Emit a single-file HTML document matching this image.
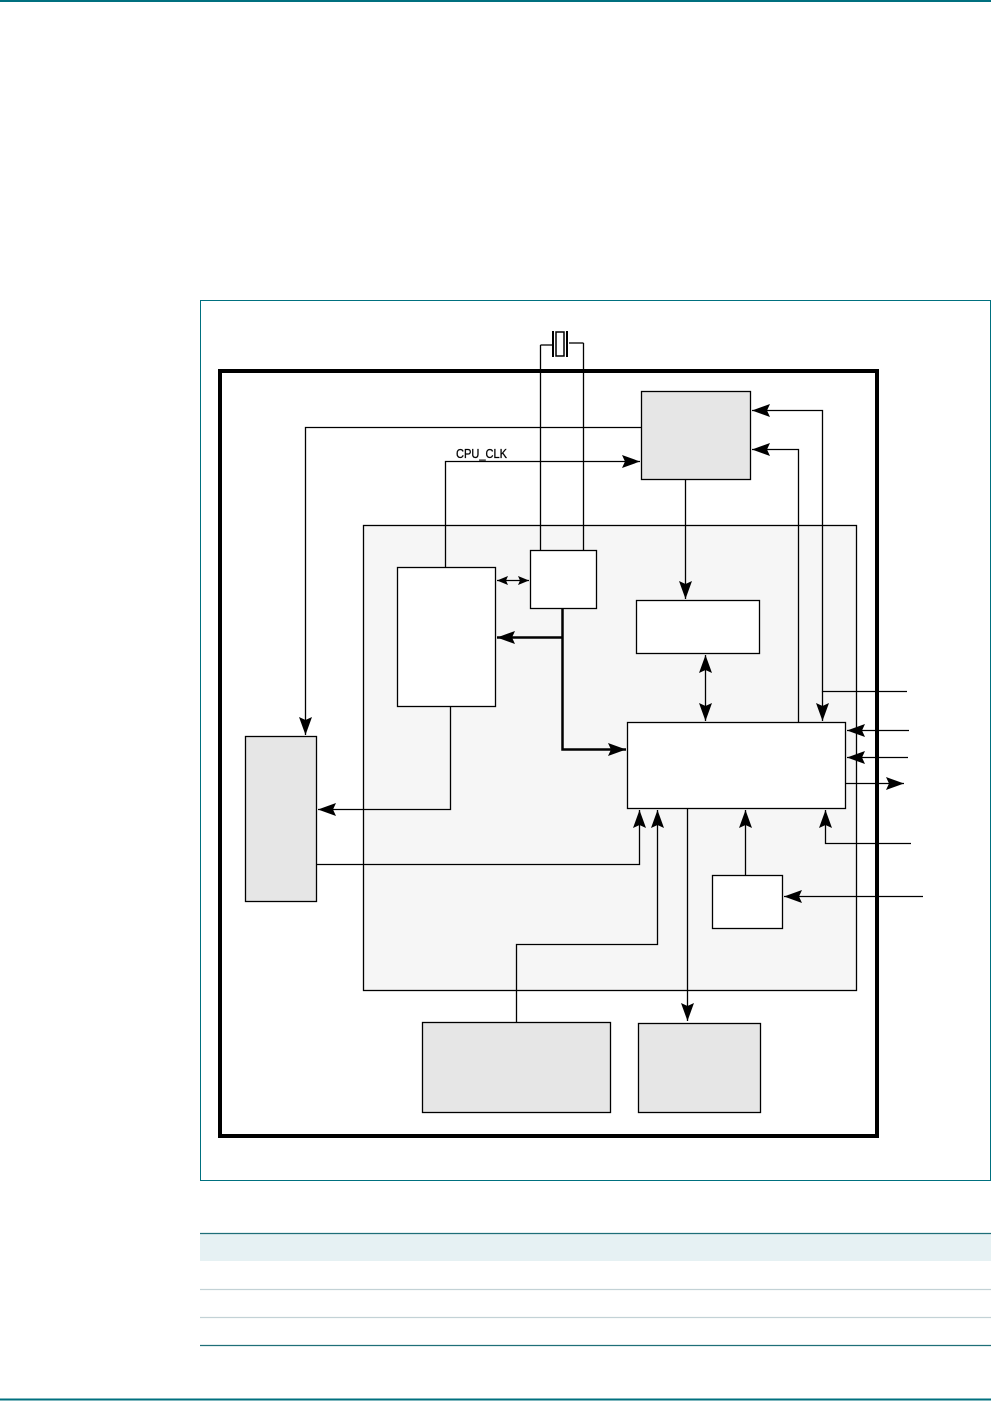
<!DOCTYPE html>
<html><head><meta charset="utf-8"><style>
html,body{margin:0;padding:0;background:#fff;}
svg{display:block;}
</style></head><body>
<svg width="991" height="1401" viewBox="0 0 991 1401" xmlns="http://www.w3.org/2000/svg">
<defs>
<marker id="a" markerUnits="userSpaceOnUse" markerWidth="20" markerHeight="14" refX="18" refY="7" orient="auto">
<path d="M0,0.5 L18,7 L0,13.5 L3,7 Z" fill="#000"/>
</marker>
<marker id="s" markerUnits="userSpaceOnUse" markerWidth="20" markerHeight="14" refX="0" refY="7" orient="auto">
<path d="M18,0.5 L0,7 L18,13.5 L15,7 Z" fill="#000"/>
</marker>
<marker id="a2" markerUnits="userSpaceOnUse" markerWidth="12" markerHeight="10" refX="11" refY="5" orient="auto">
<path d="M0,0.5 L11,5 L0,9.5 L2,5 Z" fill="#000"/>
</marker>
<marker id="s2" markerUnits="userSpaceOnUse" markerWidth="12" markerHeight="10" refX="0" refY="5" orient="auto">
<path d="M11,0.5 L0,5 L11,9.5 L9,5 Z" fill="#000"/>
</marker>
</defs>
<rect width="991" height="1401" fill="#fff"/>
<line x1="0" y1="1" x2="991" y2="1" stroke="#00707f" stroke-width="2"/>
<rect x="200.5" y="300.5" width="790" height="880" fill="none" stroke="#00707f" stroke-width="1"/>

<rect x="200" y="1234" width="791" height="27" fill="#e6f1f3"/>
<line x1="200" y1="1233.5" x2="991" y2="1233.5" stroke="#1f6f78" stroke-width="1.2"/>
<line x1="200" y1="1289.5" x2="991" y2="1289.5" stroke="#c3d2d6" stroke-width="1.2"/>
<line x1="200" y1="1317.5" x2="991" y2="1317.5" stroke="#c3d2d6" stroke-width="1.2"/>
<line x1="200" y1="1345.5" x2="991" y2="1345.5" stroke="#1f6f78" stroke-width="1.2"/>
<line x1="0" y1="1399.5" x2="991" y2="1399.5" stroke="#00707f" stroke-width="2"/>

<g stroke="#000" fill="none" stroke-width="1.3">
<rect x="220" y="371" width="657" height="765" stroke-width="4"/>
<rect x="363.5" y="525.5" width="493" height="465" fill="#f6f6f6"/>
<line x1="540.5" y1="345" x2="540.5" y2="551"/>
<line x1="583.5" y1="343" x2="583.5" y2="551"/>
<polyline points="540.5,345 552,345"/>
<polyline points="569,343 583.5,343"/>
<line x1="553" y1="331" x2="553" y2="357" stroke-width="2"/>
<line x1="567" y1="331" x2="567" y2="357" stroke-width="2"/>
<rect x="556" y="332" width="8" height="24" fill="#fff" stroke-width="1.5"/>

<rect x="641.5" y="391.5" width="109" height="88" fill="#e6e6e6"/>
<rect x="397.5" y="567.5" width="98" height="139" fill="#fff"/>
<rect x="530.5" y="550.5" width="66" height="58" fill="#fff"/>
<rect x="636.5" y="600.5" width="123" height="53" fill="#fff"/>
<rect x="627.5" y="722.5" width="218" height="86" fill="#fff"/>
<rect x="712.5" y="875.5" width="70" height="53" fill="#fff"/>
<rect x="245.5" y="736.5" width="71" height="165" fill="#e6e6e6"/>
<rect x="422.5" y="1022.5" width="188" height="90" fill="#e6e6e6"/>
<rect x="638.5" y="1023.5" width="122" height="89" fill="#e6e6e6"/>

<polyline points="641,427.5 305.5,427.5 305.5,735" marker-end="url(#a)"/>
<polyline points="445.5,567 445.5,461.5 640,461.5" marker-end="url(#a)"/>
<line x1="685.5" y1="479" x2="685.5" y2="599" marker-end="url(#a)"/>
<line x1="705.5" y1="655" x2="705.5" y2="721" marker-start="url(#s)" marker-end="url(#a)"/>
<line x1="497" y1="580.5" x2="529" y2="580.5" marker-start="url(#s2)" marker-end="url(#a2)"/>
<polyline points="562.5,608 562.5,749.5 626,749.5" stroke-width="2.5" marker-end="url(#a)"/>
<polyline points="562.5,637.5 497,637.5" stroke-width="2.5" marker-end="url(#a)"/>
<polyline points="450.5,706 450.5,809.5 318,809.5" marker-end="url(#a)"/>
<polyline points="316,864.5 639.5,864.5 639.5,810" marker-end="url(#a)"/>
<polyline points="516.5,1022 516.5,944.5 657.5,944.5 657.5,810" marker-end="url(#a)"/>
<line x1="687.5" y1="808" x2="687.5" y2="1021" marker-end="url(#a)"/>
<line x1="745.5" y1="875" x2="745.5" y2="810" marker-end="url(#a)"/>
<line x1="923" y1="896.5" x2="784" y2="896.5" marker-end="url(#a)"/>
<polyline points="907,691.5 822.5,691.5 822.5,410.5 752,410.5" marker-end="url(#a)"/>
<line x1="822.5" y1="691.5" x2="822.5" y2="721" marker-end="url(#a)"/>
<polyline points="798.5,722 798.5,449.5 752,449.5" marker-end="url(#a)"/>
<line x1="909" y1="730.5" x2="847" y2="730.5" marker-end="url(#a)"/>
<line x1="908" y1="757.5" x2="847" y2="757.5" marker-end="url(#a)"/>
<line x1="846" y1="783.5" x2="904" y2="783.5" marker-end="url(#a)"/>
<polyline points="911,843.5 825.5,843.5 825.5,810" marker-end="url(#a)"/>
</g>
<text x="456" y="458" font-family="Liberation Sans, sans-serif" font-size="13" fill="#000" stroke="#000" stroke-width="0.3" textLength="51" lengthAdjust="spacingAndGlyphs">CPU_CLK</text>
</svg>
</body></html>
